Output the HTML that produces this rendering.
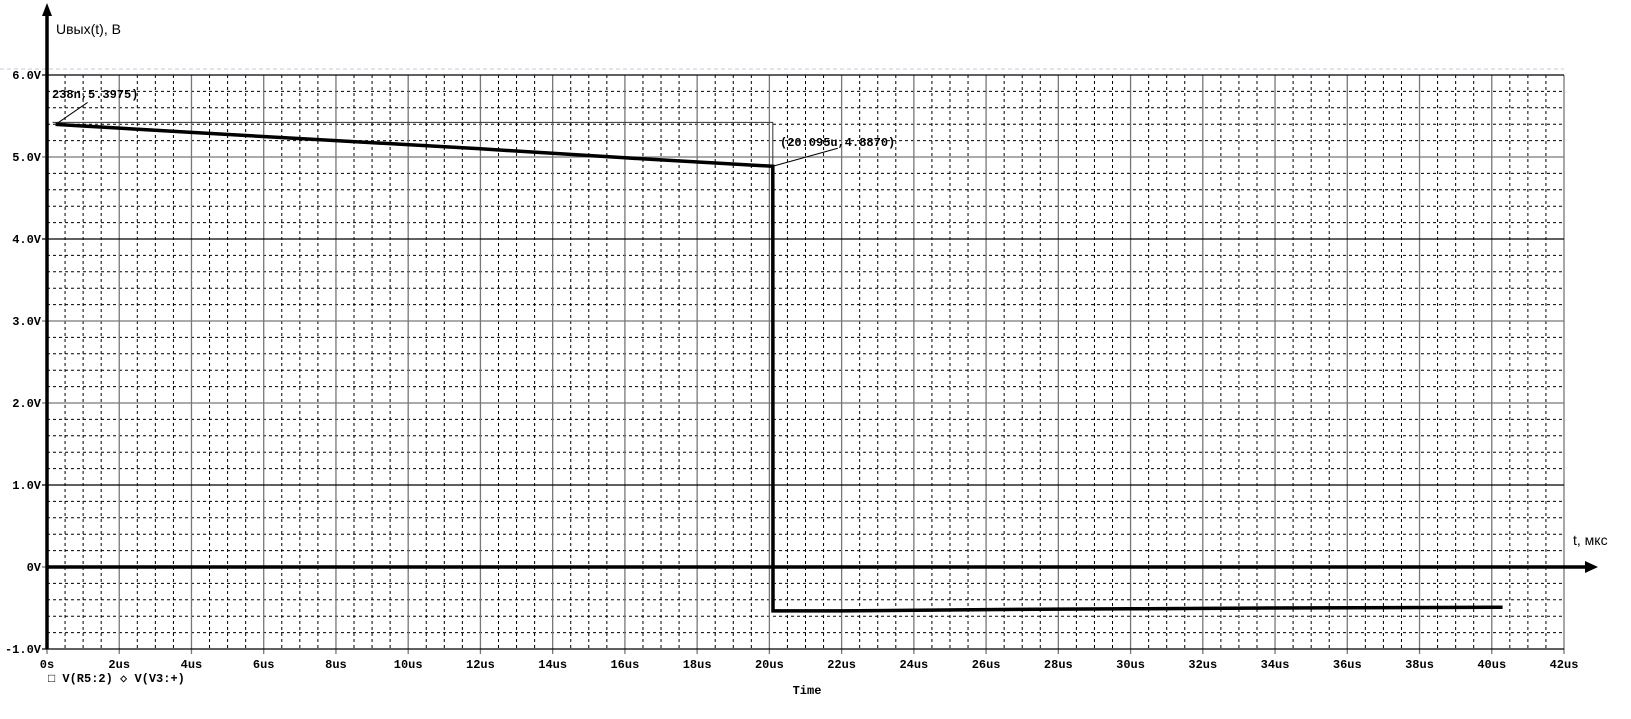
<!DOCTYPE html>
<html><head><meta charset="utf-8"><style>
html,body{margin:0;padding:0;background:#fff;}
svg{display:block;}
.tk{font-family:"Liberation Mono",monospace;font-size:12px;font-weight:bold;fill:#000;}
</style></head><body>
<svg id="chart" width="1631" height="719" viewBox="0 0 1631 719" xmlns="http://www.w3.org/2000/svg">
<g id="grid"></g>
<g id="marks"></g>
<g id="axes"></g>
</svg>
<script>
const xTicks = [0,2,4,6,8,10,12,14,16,18,20,22,24,26,28,30,32,34,36,38,40,42];
const xTickLabels = ["0s","2us","4us","6us","8us","10us","12us","14us","16us","18us","20us","22us","24us","26us","28us","30us","32us","34us","36us","38us","40us","42us"];
const yTicks = [6,5,4,3,2,1,0,-1];
const yTickLabels = ["6.0V","5.0V","4.0V","3.0V","2.0V","1.0V","0V","-1.0V"];
const seriesT = [0.238,4,8,12,16,20.095,20.1,22,26,30,34,40.3];
const seriesV = [5.3975,5.30,5.20,5.10,4.99,4.887,-0.535,-0.535,-0.52,-0.51,-0.50,-0.49];
const cursor1 = [0.238,5.3975];
const cursor2 = [20.095,4.887];

const NS="http://www.w3.org/2000/svg";
const X0=47, XR=1564, Y0=567, PXV=82;
const xs=t=>X0+t*(XR-X0)/42;
const ys=v=>Y0-v*PXV;
function el(tag,attrs,parent){const e=document.createElementNS(NS,tag);for(const k in attrs)e.setAttribute(k,attrs[k]);parent.appendChild(e);return e;}
const grid=document.getElementById('grid'),marks=document.getElementById('marks'),axes=document.getElementById('axes');

// minor dashed grid
for(let t=0;t<=42.001;t+=0.5){
  if(Math.abs(t/2-Math.round(t/2))<1e-6) continue;
  const l=el('line',{x1:xs(t),x2:xs(t),y1:ys(6),y2:ys(-1),stroke:'#000','stroke-width':1,'stroke-dasharray':'3,3'},grid);
  
  
}
for(let v=-1;v<=6.001;v+=0.2){
  if(Math.abs(v-Math.round(v))<1e-6) continue;
  const l=el('line',{x1:xs(0),x2:xs(42),y1:ys(v),y2:ys(v),stroke:'#000','stroke-width':1,'stroke-dasharray':'3,3'},grid);
  
  
}
const faint=el('line',{x1:0,x2:xs(42),y1:ys(6)-6,y2:ys(6)-6,stroke:'#c8c8e0','stroke-width':1,'stroke-dasharray':'4,3'},grid);



// major grid + ticks
xTicks.forEach((t,i)=>{
  const l=el('line',{x1:xs(t),x2:xs(t),y1:ys(6),y2:ys(-1)+5,stroke:'#777','stroke-width':1.3},grid);
  
  
  const tx=el('text',{x:xs(t),y:ys(-1)+19,'text-anchor':'middle',class:'tk'},axes);
  tx.textContent=xTickLabels[i];
  
  
});
yTicks.forEach((v,i)=>{
  const l=el('line',{x1:xs(0)-5,x2:xs(42),y1:ys(v),y2:ys(v),stroke:v===6||v===1||v===4||v===-1?'#000':'#777','stroke-width':1.3},grid);
  
  
  const tx=el('text',{x:xs(0)-6,y:ys(v)+4,'text-anchor':'end',class:'tk'},axes);
  tx.textContent=yTickLabels[i];
  
  
});

// cursor lines
const cb=el('path',{d:`M${xs(cursor1[0])-3} ${ys(cursor1[1])-2} H${xs(cursor2[0])} V${ys(cursor2[1])}`,fill:'none',stroke:'#333','stroke-width':1},marks);



// series
let d='';
seriesT.forEach((t,i)=>{d+=(i?'L':'M')+xs(t).toFixed(1)+' '+ys(seriesV[i]).toFixed(1)+' ';});
const p=el('path',{d:d,fill:'none',stroke:'#000','stroke-width':3.5,'stroke-linejoin':'miter'},marks);



// annotations
const a1=el('line',{x1:xs(cursor1[0]),y1:ys(cursor1[1]),x2:xs(cursor1[0])+32,y2:ys(cursor1[1])-22,stroke:'#000','stroke-width':1},marks);


const t1=el('text',{x:52,y:98,class:'tk'},marks);t1.textContent='238n,5.3975)';


const a2=el('line',{x1:xs(cursor2[0]),y1:ys(cursor2[1]),x2:xs(cursor2[0])+65,y2:ys(cursor2[1])-18,stroke:'#000','stroke-width':1},marks);


const t2=el('text',{x:780,y:146,class:'tk'},marks);t2.textContent='(20.095u,4.8870)';



// axes with arrows
const ya=el('line',{x1:xs(0),x2:xs(0),y1:10,y2:ys(-1),stroke:'#000','stroke-width':3.5},axes);


const yh=el('path',{d:`M${xs(0)-5} 16 L${xs(0)} 3 L${xs(0)+5} 16 Z`,fill:'#000'},axes);


const xa=el('line',{x1:xs(0),x2:1592,y1:Y0,y2:Y0,stroke:'#000','stroke-width':3.5},axes);


const xh=el('path',{d:`M1585 ${Y0-6} L1598 ${Y0} L1585 ${Y0+6} Z`,fill:'#000'},axes);



const yt=el('text',{x:56,y:34,'font-family':'Liberation Sans, sans-serif','font-size':'14px',fill:'#000'},axes);
yt.textContent='Uвых(t), В';


const xt=el('text',{x:1573,y:545,'font-family':'Liberation Sans, sans-serif','font-size':'14px',fill:'#000'},axes);
xt.textContent='t, мкс';


const tm=el('text',{x:807,y:694,'text-anchor':'middle',class:'tk'},axes);
tm.textContent='Time';


const lg=el('text',{x:48,y:682,class:'tk'},axes);
lg.textContent='□ V(R5:2)  ◇ V(V3:+)';


</script>
</body></html>
